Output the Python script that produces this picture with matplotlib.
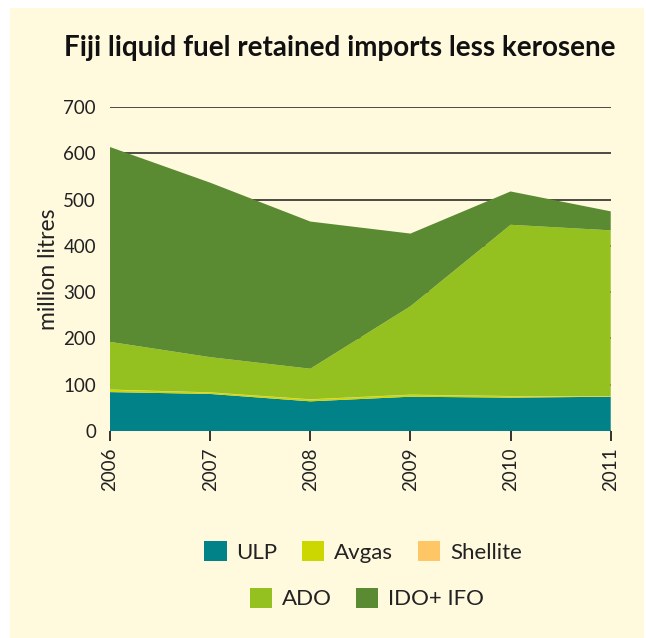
import matplotlib
matplotlib.use("Agg")
import matplotlib.pyplot as plt
from matplotlib.patches import Rectangle, Patch

plt.rcParams['font.family'] = ['Lato', 'DejaVu Sans']

# Data (million litres)
years = [2006, 2007, 2008, 2009, 2010, 2011]
series_names = ["ULP", "Avgas", "Shellite", "ADO", "IDO+ IFO"]
ulp = [84, 80, 64, 74, 72, 74]
avgas = [5, 3, 4, 4, 3, 1]
shellite = [0.5, 0.5, 0.5, 0.5, 0.5, 0.5]
ado = [103, 76, 66, 191, 370, 358]
ido_ifo = [421, 377, 318, 157, 72, 41]
y_ticks = [0, 100, 200, 300, 400, 500, 600, 700]

colors = ['#008288', '#CCD600', '#FFC666', '#94C11F', '#5A8A32']
bg = '#FFF9DE'

fig = plt.figure(figsize=(6.46, 6.38), dpi=100)
fig.patch.set_facecolor('white')
# cream panel behind everything
fig.patches.append(Rectangle((10 / 646, 0), 634 / 646, 1 - 8 / 638, transform=fig.transFigure,
                             facecolor=bg, edgecolor='none', zorder=-10))

ax = fig.add_axes([0.1703, 0.3245, 0.7751, 0.5078])
ax.set_facecolor(bg)
ax.patch.set_alpha(0)

ax.stackplot(years, ulp, avgas, shellite, ado, ido_ifo, colors=colors,
             linewidth=0, zorder=3)

ax.set_xlim(years[0], years[-1])
ax.set_ylim(0, 700)
ax.set_yticks(y_ticks)
ax.set_xticks(years)
ax.set_xticklabels([str(y) for y in years], rotation=90)

ax.set_axisbelow(True)
ax.yaxis.grid(True, color='#1a1a1a', linewidth=1.1)
ax.xaxis.grid(False)
for s in ax.spines.values():
    s.set_visible(False)

ax.tick_params(axis='y', length=0, pad=10, labelsize=13.5, colors='#222222')
ax.tick_params(axis='x', length=7, width=1.2, color='#111111', pad=5,
               labelsize=13.5, labelcolor='#222222')
ax.set_ylabel("million litres", fontsize=16.5, color='#222222', labelpad=3)

fig.text(0.5255, 0.925, "Fiji liquid fuel retained imports less kerosene",
         ha='center', va='center', fontsize=20, fontweight='bold', color='#111111')

handles = [Patch(facecolor=c, edgecolor='none') for c in colors]
leg1 = fig.legend(handles[:3], series_names[:3], ncol=3, loc='center',
                  bbox_to_anchor=(0.562, 0.135), frameon=False, fontsize=16,
                  handlelength=1.0, handleheight=1.0, handletextpad=0.45,
                  columnspacing=1.1)
leg2 = fig.legend(handles[3:], series_names[3:], ncol=2, loc='center',
                  bbox_to_anchor=(0.568, 0.062), frameon=False, fontsize=16,
                  handlelength=1.0, handleheight=1.0, handletextpad=0.45,
                  columnspacing=1.1)
for t in leg1.get_texts() + leg2.get_texts():
    t.set_color('#222222')

fig.savefig("out.png", dpi=100, facecolor=fig.get_facecolor())
